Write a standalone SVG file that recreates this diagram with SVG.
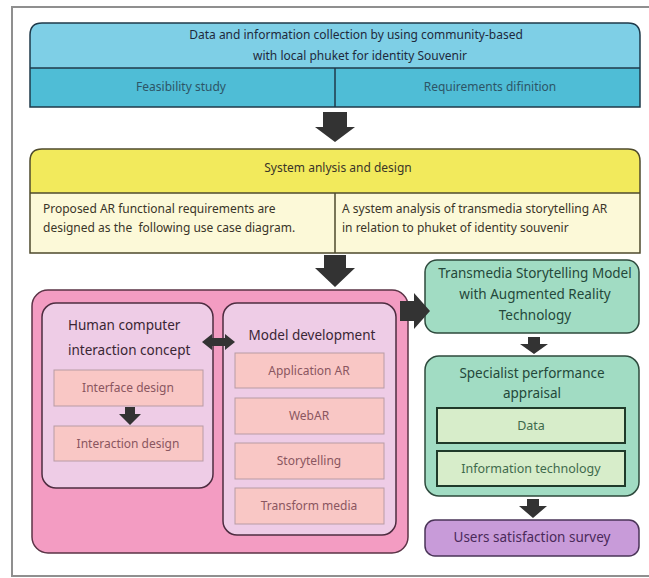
<svg xmlns="http://www.w3.org/2000/svg" width="649" height="578" viewBox="0 0 649 578">
<style>
text{font-family:"Noto Sans","Open Sans","Liberation Sans",sans-serif;}
.t12{font-size:12px;}
.c{text-anchor:middle;}
.dark{fill:#1e2a3c;}
.blue2{fill:#2d5566;}
.ytxt{fill:#3a3528;}
.ptitle{font-size:13.5px;fill:#3a2634;}
.pin{font-size:12px;fill:#8a5660;}
.gtxt{font-size:13.5px;fill:#24483a;}
.gin{font-size:12.5px;fill:#3f6a4c;}
.arrow{fill:#333333;}
.inner{fill:#f9c7c5;stroke:#b89ba4;stroke-width:1;}
.mid{fill:#eeccE6;stroke:#4d2c40;stroke-width:1.5;}
.gbox{fill:#a1dcc3;stroke:#2e4a3d;stroke-width:1.5;}
.gin-box{fill:#d7edca;stroke:#1f3a2a;stroke-width:2;}
</style>
<rect x="0" y="0" width="649" height="578" fill="#ffffff"/>
<rect x="12" y="7" width="660" height="569" fill="none" stroke="#8f8f8f" stroke-width="2"/>

<g id="data-collection">
  <path d="M30,68 V35 Q30,23 42,23 H628 Q640,23 640,35 V68 Z" fill="#7ecfe6"/>
  <rect x="30" y="68" width="610" height="39" fill="#4fbdd6"/>
  <path d="M30,107 V35 Q30,23 42,23 H628 Q640,23 640,35 V107 Z" fill="none" stroke="#1f3a4a" stroke-width="1.5"/>
  <line x1="30" y1="68" x2="640" y2="68" stroke="#1f3a4a" stroke-width="1.5"/>
  <line x1="335" y1="68" x2="335" y2="107" stroke="#1f3a4a" stroke-width="1.5"/>
  <text class="t12 c dark" x="356" y="39">Data and information collection by using community-based</text>
  <text class="t12 c dark" x="360" y="60">with local phuket for identity Souvenir</text>
  <text class="t12 c blue2" x="181" y="91">Feasibility study</text>
  <text class="t12 c blue2" x="490" y="91">Requirements difinition</text>
</g>

<g id="system-analysis">
  <path d="M30,193 V161 Q30,149 42,149 H628 Q640,149 640,161 V193 Z" fill="#f2ea5c"/>
  <rect x="30" y="193" width="610" height="60" fill="#fcf9d8"/>
  <path d="M30,253 V161 Q30,149 42,149 H628 Q640,149 640,161 V253 Z" fill="none" stroke="#4e4a2c" stroke-width="1.5"/>
  <line x1="30" y1="193" x2="640" y2="193" stroke="#4e4a2c" stroke-width="1.5"/>
  <line x1="335" y1="193" x2="335" y2="253" stroke="#4e4a2c" stroke-width="1.5"/>
  <text class="t12 c ytxt" x="338" y="172">System anlysis and design</text>
  <text class="t12 ytxt" x="43" y="213">Proposed AR functional requirements are</text>
  <text class="t12 ytxt" x="43" y="232">designed as the&#160; following use case diagram.</text>
  <text class="t12 ytxt" x="342" y="213">A system analysis of transmedia storytelling AR</text>
  <text class="t12 ytxt" x="342" y="232">in relation to phuket of identity souvenir</text>
</g>

<g id="development">
  <rect x="32" y="290" width="376" height="263" rx="16" fill="#f39cc2" stroke="#5b3346" stroke-width="1.5"/>
</g>

<g id="hci-concept">
  <rect class="mid" x="42" y="303" width="171" height="185" rx="14"/>
  <text class="ptitle" x="68" y="330">Human computer</text>
  <text class="ptitle" x="68" y="355">interaction concept</text>
</g>
<g id="interface-design">
  <rect class="inner" x="54" y="370" width="149" height="36"/>
  <text class="pin c" x="128" y="392">Interface design</text>
</g>
<g id="interaction-design">
  <rect class="inner" x="54" y="426" width="149" height="35"/>
  <text class="pin c" x="128" y="448">Interaction design</text>
</g>

<g id="model-development">
  <rect class="mid" x="223" y="303" width="173" height="232" rx="14"/>
  <text class="ptitle c" x="312" y="340">Model development</text>
</g>
<g id="application-ar">
  <rect class="inner" x="235" y="353" width="149" height="35"/>
  <text class="pin c" x="309" y="375">Application AR</text>
</g>
<g id="webar">
  <rect class="inner" x="235" y="398" width="149" height="36"/>
  <text class="pin c" x="309" y="420">WebAR</text>
</g>
<g id="storytelling">
  <rect class="inner" x="235" y="443" width="149" height="36"/>
  <text class="pin c" x="309" y="465">Storytelling</text>
</g>
<g id="transform-media">
  <rect class="inner" x="235" y="488" width="149" height="36"/>
  <text class="pin c" x="309" y="510">Transform media</text>
</g>

<g id="transmedia-model">
  <rect class="gbox" x="425" y="260" width="214" height="73" rx="12"/>
  <text class="gtxt c" x="535" y="278">Transmedia Storytelling Model</text>
  <text class="gtxt c" x="535" y="299">with Augmented Reality</text>
  <text class="gtxt c" x="535" y="320">Technology</text>
</g>

<g id="specialist-appraisal">
  <rect class="gbox" x="425" y="356" width="214" height="140" rx="14"/>
  <text class="gtxt c" x="532" y="378">Specialist performance</text>
  <text class="gtxt c" x="532" y="398">appraisal</text>
</g>
<g id="data">
  <rect class="gin-box" x="437" y="408" width="188" height="35"/>
  <text class="gin c" x="531" y="430">Data</text>
</g>
<g id="information-technology">
  <rect class="gin-box" x="437" y="451" width="188" height="35"/>
  <text class="gin c" x="531" y="473">Information technology</text>
</g>

<g id="users-survey">
  <rect x="425" y="520" width="214" height="36" rx="10" fill="#c89bd9" stroke="#4a3458" stroke-width="1.5"/>
  <text class="c" x="532" y="542" style="font-size:13.5px;fill:#4a2a5a">Users satisfaction survey</text>
</g>

<g id="connectors">
  <polygon class="arrow" points="323,112 347,112 347,127 355,127 335,142 315,127 323,127"/>
  <polygon class="arrow" points="324,255 346,255 346,268 355,268 335,287 315,268 324,268"/>
  <polygon class="arrow" points="400,301 414,301 414,293 430,311 414,329 414,321 400,321"/>
  <polygon class="arrow" points="528,337 540,337 540,344 548,344 534,354 520,344 528,344"/>
  <polygon class="arrow" points="527,499 539,499 539,506 547,506 533,518 519,506 527,506"/>
  <polygon class="arrow" points="125,407 135,407 135,414 141,414 130,425 119,414 125,414"/>
  <polygon class="arrow" points="202,342 212,334 212,338 225,338 225,334 235,342 225,350 225,346 212,346 212,350"/>
</g>
</svg>
